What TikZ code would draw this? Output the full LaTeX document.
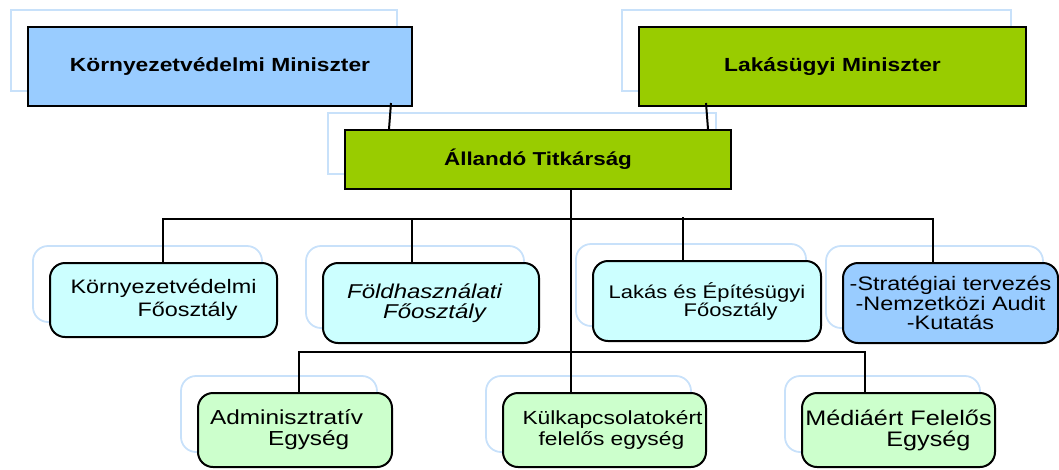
\documentclass[tikz,border=0pt]{standalone}
\usepackage{fontspec}
\setmainfont{Liberation Sans}[FakeStretch=1.2]
\usetikzlibrary{calc,backgrounds}
\definecolor{skyblue}{RGB}{153,204,255}
\definecolor{limegreen}{RGB}{153,204,0}
\definecolor{palecyan}{RGB}{204,255,255}
\definecolor{palegreen}{RGB}{204,255,204}
\definecolor{ghostblue}{RGB}{200,225,250}
\newcommand\setfs[2]{\fontsize{#1}{#2}\selectfont}

\begin{document}
\begin{tikzpicture}[x=1pt,y=-1pt,
	box/.style 2 args={draw=black,line width=2pt,inner sep=0pt,minimum width=#1,minimum height=#2},
	rbox/.style 2 args={box={#1}{#2},rounded corners=15pt},
	ghost/.style={draw=ghostblue,line width=1.8pt},
	link/.style={line width=2pt}]
	\useasboundingbox (0,0) rectangle (1059,469);
	% ministers and secretariat
	\node[box={384pt}{79pt},fill=skyblue,font=\setfs{19}{23}\bfseries] (kvm) at (220,66.5) {Környezetvédelmi Miniszter};
	\node[box={387pt}{79pt},fill=limegreen,font=\setfs{19}{23}\bfseries] (lm) at (832.5,66.5) {Lakásügyi Miniszter};
	\node[box={386pt}{59pt},fill=limegreen,font=\setfs{18.7}{22}\bfseries] (alt) at (538,159.5) {Állandó Titkárság};
	% departments
	\node[rbox={227pt}{74pt},fill=palecyan,align=left,font=\setfs{19.5}{23}] (kvf) at (163.5,300) {Környezetvédelmi\\\hspace*{67pt}Főosztály};
	\node[rbox={216pt}{80pt},fill=palecyan,align=left,font=\setfs{20}{20.5}\itshape] (fhf) at (431,303) {Földhasználati\hspace*{13pt}\\\hspace*{36pt}Főosztály};
	\node[rbox={228pt}{80pt},fill=palecyan,align=left,font=\setfs{18.3}{18}] (lef) at (707,301) {Lakás és Építésügyi\\\hspace*{75pt}Főosztály};
	\node[rbox={215pt}{80pt},fill=skyblue,align=center,font=\setfs{19.5}{19.5}] (str) at (950.5,303) {-Stratégiai tervezés\\-Nemzetközi Audit\\-Kutatás};
	% units
	\node[rbox={194pt}{74pt},fill=palegreen,align=left,font=\setfs{20.3}{21}] (adm) at (295,430) {Adminisztratív\hspace*{17pt}\\\hspace*{58pt}Egység};
	\node[rbox={203pt}{74pt},fill=palegreen,align=left,font=\setfs{19}{21}] (kke) at (604.5,430) {\hspace*{16pt}Külkapcsolatokért\\\hspace*{32pt}felelős egység};
	\node[rbox={193pt}{74pt},fill=palegreen,align=left,font=\setfs{21}{21}] (mfe) at (898.5,430) {Médiáért Felelős\\\hspace*{81pt}Egység};
	% pale frames behind the boxes
	\begin{scope}[on background layer]
		\foreach \n in {kvm,lm,alt} \draw[ghost] ($(\n.south west)+(-16,-16)$) rectangle ($(\n.north east)+(-16,-16)$);
		\foreach \n in {kvf,fhf,lef,str,adm,kke,mfe} \draw[ghost,rounded corners=15pt] ($(\n.south west)+(-16,-16)$) rectangle ($(\n.north east)+(-16,-16)$);
	\end{scope}
	% connectors
	\draw[link] ($(kvm.south east)+(-22,-4)$) -- ($(alt.north west)+(45,0)$);
	\draw[link] ($(lm.south west)+(68,-4)$) -- ($(alt.north east)+(-24,0)$);
	\draw[link] ($(alt.south west)+(227,0)$) -- ($(kke.north west)+(69,0)$);
	\draw[link] ($(kvf.north west)+(114,0)$) -- ++(0,-43) -| ($(str.north west)+(91,0)$);
	\foreach \n/\d in {fhf/90,lef/91} \draw[link] ($(\n.north west)+(\d,0)$) -- ++(0,-43);
	\draw[link] ($(adm.north west)+(102,0)$) -- ++(0,-40) -| ($(mfe.north west)+(64,0)$);
\end{tikzpicture}
\end{document}
